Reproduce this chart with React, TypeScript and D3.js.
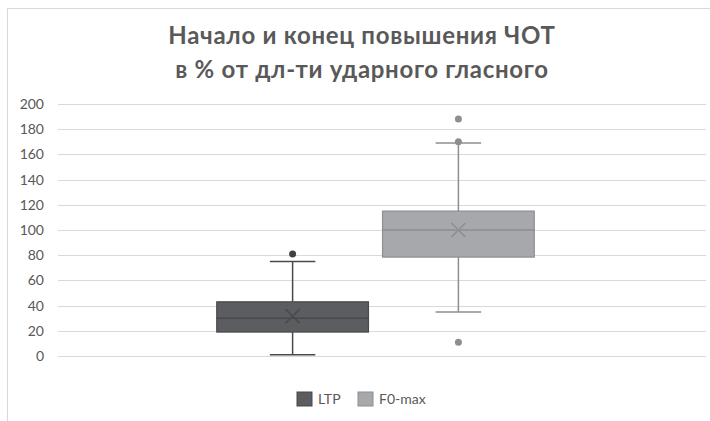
import React from "react";
import * as d3 from "d3";

const titleLines = ["Начало и конец повышения ЧОТ", "в % от дл-ти ударного гласного"];
const seriesNames = ["LTP", "F0-max"];
const q1 = [19, 78.5];
const medians = [30, 100];
const q3 = [43, 115];
const means = [31.5, 100];
const whiskerLow = [1, 35];
const whiskerHigh = [75, 169];
const outliers = [[81], [188, 170, 11]];
const yTicks = [0, 20, 40, 60, 80, 100, 120, 140, 160, 180, 200];
const fills = ["#5c5d61", "#a6a8ac"];
const strokes = ["#48494d", "#8c8e92"];
const dotColors = ["#3f4044", "#8c8e92"];

export default function App() {
  const W = 710, H = 421;
  const plotL = 58, plotR = 706, plotT = 104, plotB = 356;
  const y = d3.scaleLinear().domain([0, 200]).range([plotB, plotT]);
  const cat = d3.scaleBand().domain(["all"]).range([plotL, 693]).paddingOuter(0).paddingInner(0);
  const bw = cat.bandwidth();
  const gx0 = (cat("all") as number) + bw * 0.25;
  const gx1 = (cat("all") as number) + bw * 0.75;
  const x = d3.scaleBand().domain(seriesNames).range([gx0, gx1]).paddingInner(0.085).paddingOuter(0);
  const b = x.bandwidth();
  const font = "Lato, 'Open Sans', sans-serif";
  return (
    <svg width={W} height={H} style={{ position: "absolute", left: 0, top: 0, background: "#fff" }}>
      <rect x={0} y={0} width={W} height={H} fill="#fff" />
      <line x1={7.5} y1={8.5} x2={W} y2={8.5} stroke="#d9d9d9" />
      <line x1={7.5} y1={8.5} x2={7.5} y2={H} stroke="#d9d9d9" />
      {titleLines.map((t, i) => (
        <text key={i} x={362} y={44 + i * 34} textAnchor="middle" fontFamily={font} fontWeight="bold" fontSize={24} letterSpacing={0.7} fill="#595959">{t}</text>
      ))}
      {yTicks.map((t) => (
        <g key={t}>
          <line x1={plotL} x2={plotR} y1={Math.round(y(t)) + 0.5} y2={Math.round(y(t)) + 0.5} stroke="#d9d9d9" strokeWidth={1.2} />
          <text x={44} y={y(t) + 5} textAnchor="end" fontFamily={font} fontSize={14} fill="#595959">{t}</text>
        </g>
      ))}
      {seriesNames.map((s, i) => {
        const x0 = x(s) as number;
        const cx = x0 + b / 2;
        const cap = b * 0.15;
        const m = 7;
        return (
          <g key={s}>
            <line x1={cx} x2={cx} y1={y(whiskerHigh[i])} y2={y(q3[i])} stroke={strokes[i]} strokeWidth={1.5} />
            <line x1={cx} x2={cx} y1={y(q1[i])} y2={y(whiskerLow[i])} stroke={strokes[i]} strokeWidth={1.5} />
            <line x1={cx - cap} x2={cx + cap} y1={y(whiskerHigh[i])} y2={y(whiskerHigh[i])} stroke={strokes[i]} strokeWidth={1.5} />
            <line x1={cx - cap} x2={cx + cap} y1={y(whiskerLow[i])} y2={y(whiskerLow[i])} stroke={strokes[i]} strokeWidth={1.5} />
            <rect x={x0} y={y(q3[i])} width={b} height={y(q1[i]) - y(q3[i])} fill={fills[i]} stroke={strokes[i]} strokeWidth={1.2} />
            <line x1={x0} x2={x0 + b} y1={y(medians[i])} y2={y(medians[i])} stroke={strokes[i]} strokeWidth={1.5} />
            <path d={`M${cx - m},${y(means[i]) - m}L${cx + m},${y(means[i]) + m}M${cx - m},${y(means[i]) + m}L${cx + m},${y(means[i]) - m}`} stroke={strokes[i]} strokeWidth={1.5} />
            {outliers[i].map((o, j) => (
              <circle key={j} cx={cx} cy={y(o)} r={3.5} fill={dotColors[i]} />
            ))}
          </g>
        );
      })}
      {seriesNames.map((s, i) => {
        const lx = [297, 358][i];
        return (
          <g key={s}>
            <rect x={lx} y={392} width={15} height={14} fill={fills[i]} stroke={strokes[i]} />
            <text x={lx + 21} y={404} fontFamily={font} fontSize={14} fill="#595959">{s}</text>
          </g>
        );
      })}
    </svg>
  );
}
